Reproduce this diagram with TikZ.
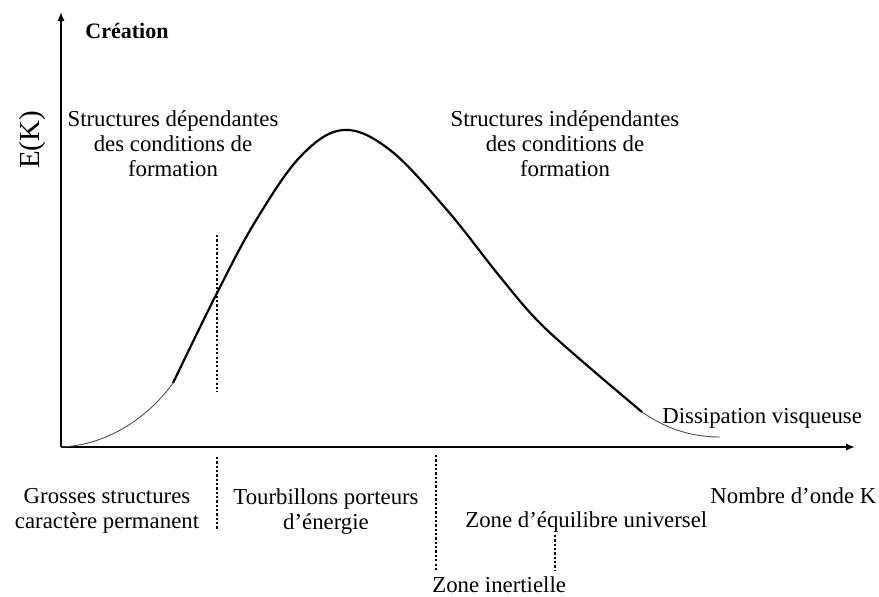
\documentclass[tikz,border=0pt]{standalone}
\usepackage{fontspec}
\setmainfont{Liberation Serif}
\usetikzlibrary{positioning,
arrows.meta,
calc}
\tikzstyle{Axis} = [
line width=0.8pt,
-{Latex[length=4.5pt,width=3.6pt]}
]
\tikzstyle{Limit} = [
line width=1.1pt,
dash pattern=on 1.1pt off 1.07pt
]
\tikzstyle{Thin} = [line width=0.45pt, black!70]
\tikzstyle{Thick} = [line width=1.1pt, line join=round]
\tikzstyle{Txt} = [inner sep=0pt, align=center]
\begin{document}
\begin{tikzpicture}[x=0.5pt, y=-0.5pt, font=\fontsize{11.4}{12.5}\selectfont]
            \useasboundingbox (0,0) rectangle (879,596);
            % axes
            \coordinate (o) at (61,447);
            \coordinate (ymax) at (61,12);
            \coordinate (xmax) at (855,447);
            \draw[Axis] (o) -- (ymax);
            \draw[Axis] (o) -- (xmax);

            % spectrum
            \coordinate (a) at (173,383);
            \coordinate (b) at (642,412);
            \coordinate (c) at (720,437);
            \draw[Thin] (o) .. controls (110,445) and (150,415) .. (a);
            \draw[Thick] plot[smooth, tension=0.6] coordinates {(a) (216,295) (255,222) (300,157) (343,130) (390,150) (447,210) (497,273) (535,318) (575,355) (b)};
            \draw[Thin] (b) .. controls (665,428) and (690,437) .. (c);

            % zone limits
            \coordinate (l1) at (217,235);
            \coordinate (l2) at (217,392);
            \coordinate (l3) at (217,457);
            \coordinate (l4) at (217,530);
            \coordinate (l5) at (436,455);
            \coordinate (l6) at (436,570);
            \coordinate (l7) at (555,535);
            \coordinate (l8) at (555,570);
            \draw[Limit] (l1) -- (l2);
            \draw[Limit] (l3) -- (l4);
            \draw[Limit] (l5) -- (l6);
            \draw[Limit] (l7) -- (l8);

            % labels
            \node [Txt, anchor=base west, font=\bfseries\fontsize{11}{12.4}\selectfont] (1) at (85,38) {Création};
            \node [Txt, rotate=90, font=\fontsize{14.5}{16}\selectfont] (2) at (33,140) {E(K)};
            \node [Txt, anchor=north] (3) at (173,110) {Structures dépendantes\\des conditions de\\formation};
            \node [Txt, anchor=north] (4) at (565,110) {Structures indépendantes\\des conditions de\\formation};
            \node [Txt, anchor=base west] (5) at (662,423) {Dissipation visqueuse};
            \node [Txt, anchor=north] (6) at (107,488) {Grosses structures\\caractère permanent};
            \node [Txt, anchor=north] (7) at (326,488) {Tourbillons porteurs\\d’énergie};
            \node [Txt, anchor=base west] (8) at (710,503) {Nombre d’onde K};
            \node [Txt, anchor=base west] (9) at (465,527) {Zone d’équilibre universel};
            \node [Txt, anchor=base west] (10) at (432,592) {Zone inertielle};
        \end{tikzpicture}
\end{document}
